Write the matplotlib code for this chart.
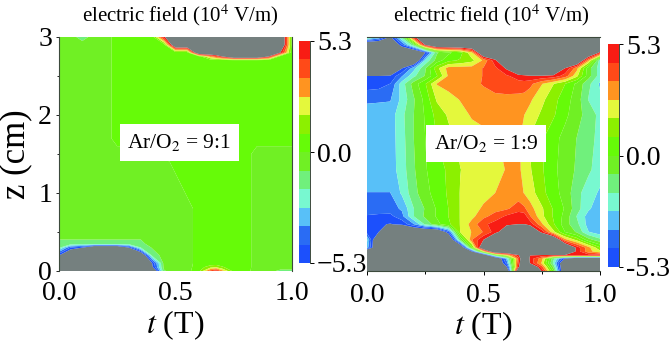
"""Electric field contour maps, Ar/O2 = 9:1 and 1:9."""
import matplotlib
matplotlib.use("Agg")
import matplotlib.pyplot as plt
from matplotlib.colors import BoundaryNorm, ListedColormap
from matplotlib.cm import ScalarMappable
import numpy as np

plt.rcParams["font.family"] = ["Liberation Serif", "DejaVu Serif"]
plt.rcParams["mathtext.fontset"] = "stix"

# H / L: field beyond the colour range, both drawn grey
H = 8.0
L = -8.0
A = -0.3
B = 0.3

t_grid = [0.0, 0.05, 0.10, 0.15, 0.20, 0.25, 0.30, 0.35, 0.40, 0.45, 0.50,
          0.55, 0.60, 0.65, 0.675, 0.70, 0.75, 0.80, 0.85, 0.90, 0.95, 1.0]

z_left = [3.0, 2.9, 2.8, 2.75, 2.7, 2.6, 1.7, 1.5, 1.4, 1.1, 0.8, 0.5, 0.4, 0.35, 0.3,
          0.2, 0.1, 0.05, 0.0]
field_left = [
    [A, A, -1.5, A, A, B, B, B, B, 5] + [H] * 11 + [0.5],
    [A] * 5 + [B] * 5 + [H] * 11 + [0.5],
    [A] * 5 + [B] * 7 + [H] * 8 + [5.3, B],
    [A] * 5 + [B] * 8 + [3, 4, 5.3, H, H, H, 5.3, B, B],
    [A] * 5 + [B] * 17,
    [A] * 5 + [B] * 17,
    [A] * 5 + [B] * 17,
    [A] * 6 + [A, A, B, B, B] + [B] * 7 + [A] * 4,
    [A] * 10 + [B] * 8 + [A] * 4,
    [A] * 11 + [B] * 7 + [A] * 4,
    [A] * 12 + [B] * 6 + [A] * 4,
    [A] * 12 + [B] * 6 + [A] * 4,
    [-0.9] * 8 + [-0.5, A, A, A] + [B] * 6 + [A] * 4,
    [-1.2] * 7 + [-1, -0.7, -0.4, A, A] + [B] * 6 + [A] * 4,
    [-1.5, -4.5, -5.3, L, L, L, -5.4, -1.8, -0.8, -0.5, A, A] + [B] * 6 + [A] * 4,
    [-5.3] + [L] * 7 + [-1.5, -0.5, A, A] + [B] * 6 + [A] * 4,
    [L] * 8 + [-5.3, -0.6, A, A] + [B] * 6 + [A] * 4,
    [L] * 8 + [-5.6, -0.7, A, A, 0.4, 1.4, 1.6, 1, 0.3, 0.3] + [A] * 4,
    [L] * 9 + [-1, A, A, 0.6, 4, 5, 3, 0.5, B, -0.4, -0.4, -1.2, -1.2],
]

z_right = [3.0, 2.9, 2.8, 2.7, 2.6, 2.5, 2.4, 2.2, 2.0, 1.7, 1.3, 1.0, 0.8,
           0.7, 0.6, 0.5, 0.4, 0.3, 0.25, 0.2, 0.16, 0.1, 0.05, 0.0]
field_right = [
    [-1, -2.5, -5.5, -1.5, 4.8] + [H] * 17,
    [L, L, L, -4.5, -1, 5.5] + [H] * 16,
    [L, L, L, L, L, -5.4, -1, -0.2, 0.5, 2.5] + [H] * 11 + [5],
    [L, L, L, L, L, -2.5, -0.5, 0.6, 1, 1.5, 2.8, 5] + [H] * 8 + [3, -2.3],
    [L, L, L, -5.4, -3, -1, 1.5, 3, 3, 3, 3.6, 4.2, 5.5] + [H] * 5 + [5.3, 3, -0.5, -2.2],
    [-5.3, -5.3, -5.2, -3.6, -2, -0.8, 0.8, 2.8, 3, 3, 3.6, 4, 4.3, 4.8, 5, 5.2, 5.2, 5, 4, 2, -0.5, -2.2],
    [-4.9, -4.8, -4.4, -2.2, -0.5, 0.8, 2.7, 3, 3.1, 3.3, 3.6, 3.8, 4, 4.1, 4.1, 3.8, 2.7, 1.8, 0.9, -0.2, -1.5, -2.8],
    [-3.7, -3.65, -3.6, -2.4, -1, 0.3, 1.9, 2.3, 2.7, 3, 3.2, 3.35, 3.3, 3.2, 3.1, 2.8, 2, 1.2, 0.4, -0.4, -1.8, -2.4],
    [-3.1, -3.1, -3.1, -2, -0.9, 0.1, 1.2, 1.9, 2.3, 2.75, 2.9, 3, 3, 2.95, 2.65, 2.3, 1.6, 1, 0.2, -0.5, -1.3, -2],
    [-3.1, -3.1, -3.1, -2.1, -0.9, 0, 0.9, 1.5, 1.95, 2.2, 2.4, 2.6, 2.8, 2.8, 2.3, 1.7, 1, 0.3, -0.3, -0.9, -1.5, -2],
    [-3.1, -3.1, -3.1, -2.2, -1, -0.1, 0.6, 1, 1.75, 2, 2.2, 2.4, 2.7, 2.8, 2.4, 1.85, 1, 0.2, -0.4, -1, -1.6, -2.2],
    [-3.55, -3.55, -3.55, -2.5, -1.2, -0.3, 0.4, 1, 1.8, 1.95, 2.1, 2.65, 3, 3, 2.6, 2.2, 1.2, 0.3, -0.3, -1.5, -2.2, -2.8],
    [-4, -4, -3.9, -3.4, -1.8, -0.8, 0.1, 0.9, 1.8, 2, 2.9, 3.2, 3.4, 4, 3.7, 3, 1.9, 0.8, -0.1, -1.4, -2.5, -3.2],
    [-4.5, -4.6, -4.7, -3.8, -1.8, -0.7, 0.1, 0.9, 1.8, 2.4, 3.3, 3.9, 4.6, 5, 5, 3.6, 2, 0.8, -0.3, -1.8, -3, -3.5],
    [-5, -5.2, -5.35, -5.1, -3.6, -1.6, -0.3, 0.7, 1.8, 3, 4.2, 4.8, 5.1, 5.3, 5.3, 5, 2.8, 1, -0.5, -1.5, -3, -3.5],
    [-4.8, -5.3, L, L, L, L, L, -4.5, 1.8, 2.7, 3.6, 4.8, 6.5, H, H, 7, 5, 2, 0, -1, -2.6, -3.2],
    [-2.5] + [L] * 7 + [-1, 3.5, 5.3] + [H] * 7 + [3, 1.5, -0.5, -1.5],
    [-3] + [L] * 8 + [0.5] + [H] * 9 + [5, 3, 1],
    [L] * 9 + [-5.4, 2] + [H] * 8 + [5, 3, 2],
    [L] * 11 + [-1, 2, 5, H, 5.3, 5, 5, 5, 5, 5, 5],
    [L] * 12 + [-3, 4, H, 5, 3, -1.5, -5.4, L, L, L],
    [L] * 12 + [-4, 4.5, H, 5.2, 2.5, -2, L, L, L, L],
    [L] * 12 + [-5.5, 5, H, H, 4, -1, L, L, L, L],
    [L] * 13 + [H, H, H, 5.2, 0, L, L, L, L],
]

panel_labels = ["Ar/O$_2$ = 9:1", "Ar/O$_2$ = 1:9"]
cbar_ticks = [-5.3, 0.0, 5.3]
cbar_labels = ["-5.3", "0.0", "5.3"]
band_colors = ["#1c50fc", "#2a6cf4", "#58c0f8", "#78f8d0", "#70f07c", "#70f024",
               "#66fb08", "#8cf000", "#e4f83c", "#ff9420", "#ff4a18", "#f81c14"]
GREY = "#75807f"

W, H_PX = 669, 350


def box(x0, y0, x1, y1):
    # pixel box (top-left origin) to figure fraction
    return [x0 / W, 1 - y1 / H_PX, (x1 - x0) / W, (y1 - y0) / H_PX]


levels = np.linspace(-5.3, 5.3, 13)
cmap = ListedColormap(band_colors)
cmap.set_over(GREY)
cmap.set_under(GREY)
norm = BoundaryNorm(levels, 12)

fig = plt.figure(figsize=(6.69, 3.5), dpi=100)

panels = [
    (box(59, 37, 292, 271), box(298.5, 41, 310, 263), z_left, field_left, 0.52, (126, 233, 142.5),
     ("left", "right")),
    (box(367, 37, 600, 271), box(608, 44, 619, 267), z_right, field_right, 0.535, (433, 539, 143.5),
     ("top", "bottom")),
]

for i, (ax_box, cb_box, z, field, title_x, lab, shown) in enumerate(panels):
    ax = fig.add_axes(ax_box)
    ax.contourf(t_grid, z, np.array(field), levels=levels, cmap=cmap, norm=norm,
                extend="both", antialiased=True)
    ax.set_xlim(0, 1)
    ax.set_ylim(0, 3)
    ax.set_xticks([0, 0.5, 1.0], ["0.0", "0.5", "1.0"])
    ax.set_xlabel(r"$t$ (T)", fontsize=23, labelpad=1.5)
    ax.set_title("electric field (10$^{4}$ V/m)", fontsize=15, x=title_x, pad=11)
    ax.tick_params(axis="x", labelsize=20, pad=7.5 if i == 0 else 5.5,
                   length=0 if i == 0 else 3, width=0.7)
    if i == 1:
        ax.set_xticks([0.25, 0.75], minor=True)
        ax.tick_params(axis="x", which="minor", length=2, width=0.7)
        ax.set_yticks([])
    else:
        ax.set_yticks([0, 1, 2, 3])
        ax.set_yticks([0.5, 1.5, 2.5], minor=True)
        ax.tick_params(axis="y", labelsize=20, pad=3, length=2, width=0.6)
        ax.tick_params(axis="y", which="minor", length=1.5, width=0.6)
        ax.set_ylabel("z (cm)", fontsize=25, labelpad=4)
    for name, spine in ax.spines.items():
        spine.set_linewidth(0.8)
        spine.set_color("#3c4a3c")
        spine.set_visible(name in shown)
    ax.text((lab[0] + lab[1]) / 2 / W, 1 - lab[2] / H_PX, panel_labels[i],
            transform=fig.transFigure, fontsize=15.5, ha="center", va="center",
            bbox=dict(facecolor="white", edgecolor="none", pad=5.5))

    cax = fig.add_axes(cb_box)
    cb = fig.colorbar(ScalarMappable(norm=norm, cmap=cmap), cax=cax,
                      extend="neither", spacing="proportional")
    cb.set_ticks(cbar_ticks, labels=cbar_labels)
    cb.minorticks_off()
    cb.outline.set_visible(False)
    cax.spines["right"].set_visible(True)
    cax.spines["right"].set_linewidth(0.7)
    cax.spines["right"].set_color("#3c4a3c")
    cax.tick_params(labelsize=20, length=3, width=0.7, pad=2)

fig.savefig("out.png", dpi=100)
